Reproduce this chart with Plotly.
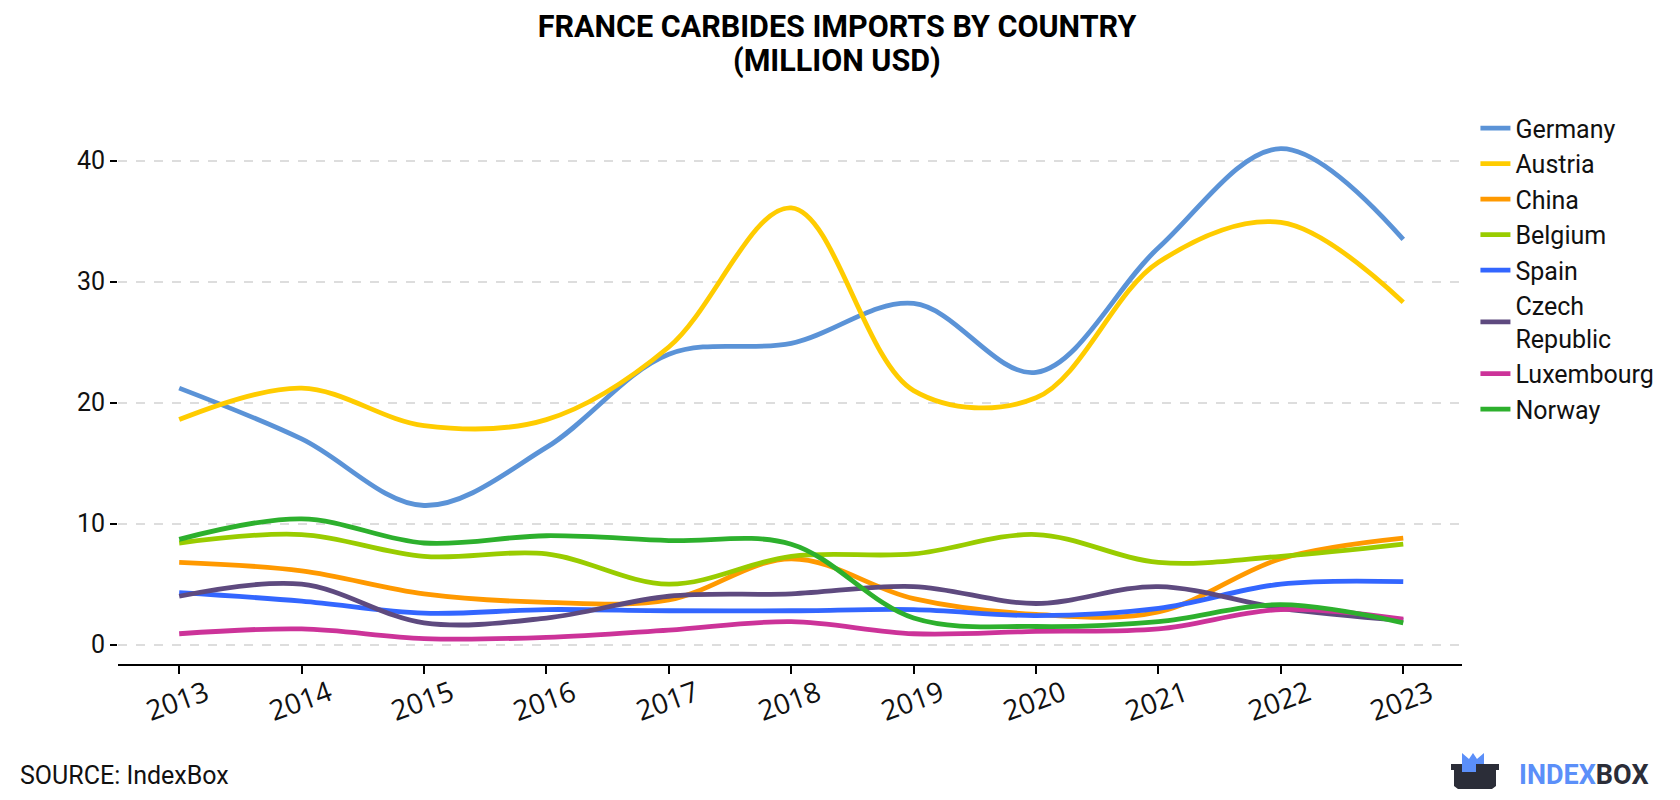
import plotly.graph_objects as go

years = [2013, 2014, 2015, 2016, 2017, 2018, 2019, 2020, 2021, 2022, 2023]
year_labels = [str(y) for y in years]

germany = [21.2, 17.0, 11.5, 16.3, 24.0, 24.9, 28.2, 22.5, 32.8, 41.0, 33.5]
austria = [18.6, 21.2, 18.1, 18.6, 24.6, 36.1, 21.0, 20.4, 31.6, 34.9, 28.3]
china = [6.8, 6.1, 4.2, 3.5, 3.7, 7.1, 3.8, 2.5, 2.7, 7.1, 8.8]
belgium = [8.4, 9.1, 7.3, 7.5, 5.0, 7.3, 7.5, 9.1, 6.8, 7.3, 8.3]
spain = [4.3, 3.6, 2.6, 2.9, 2.8, 2.8, 2.9, 2.4, 3.0, 5.0, 5.2]
czech = [4.0, 5.0, 1.8, 2.2, 4.0, 4.2, 4.8, 3.4, 4.8, 3.0, 2.0]
luxembourg = [0.9, 1.3, 0.5, 0.6, 1.2, 1.9, 0.9, 1.1, 1.3, 2.9, 2.1]
norway = [8.7, 10.4, 8.4, 9.0, 8.6, 8.3, 2.2, 1.5, 1.9, 3.3, 1.8]

series = [
    ("Germany", germany, "#5B93D7"),
    ("Austria", austria, "#FFCC00"),
    ("China", china, "#FF9900"),
    ("Belgium", belgium, "#99CC00"),
    ("Spain", spain, "#3366FF"),
    ("Czech<br>Republic", czech, "#5E4A7F"),
    ("Luxembourg", luxembourg, "#CC3399"),
    ("Norway", norway, "#2DB02D"),
]

W, H = 1680, 800
OFF = 8  # page body margin
L, R, T, B = 110, 226, 97, 144
PW, PH = W - L - R, H - T - B

fig = go.Figure()
for name, vals, color in series:
    fig.add_trace(go.Scatter(
        x=years, y=vals, name=name, mode="lines",
        line=dict(color=color, width=4.8, shape="spline", smoothing=1),
        legendgroup=name,
    ))

def px(x, y):
    # screenshot pixel -> paper coords
    x -= OFF
    y -= OFF
    return (x - L) / PW, (H - B - y) / PH

def path(points):
    s = ""
    for i, (x, y) in enumerate(points):
        a, b = px(x, y)
        s += ("M" if i == 0 else "L") + f"{a:.5f},{b:.5f} "
    return s + "Z"

shapes = [
    dict(type="path", xref="paper", yref="paper", line=dict(width=0), fillcolor="#5B8FF9",
         path=path([(1462, 769), (1462, 753), (1469, 759), (1473, 753), (1477, 759), (1484, 753), (1484, 769)])),
    dict(type="path", xref="paper", yref="paper", line=dict(width=0), fillcolor="#2B2D38",
         path=path([(1451, 764), (1499, 764), (1499, 770), (1496, 770), (1496, 786), (1492, 789),
                    (1458, 789), (1454, 786), (1454, 770), (1451, 770)])),
    dict(type="path", xref="paper", yref="paper", line=dict(width=0), fillcolor="#5B8FF9",
         path=path([(1462, 764), (1476, 764), (1476, 772), (1462, 772)])),
]

annotations = [
    dict(text="<b>(MILLION USD)</b>", xref="paper", yref="paper",
         x=px(837, 0)[0], y=px(0, 61)[1], xanchor="center", yanchor="middle",
         showarrow=False, font=dict(size=30.5, color="#000000", family="Roboto")),
    dict(text="SOURCE: IndexBox", xref="paper", yref="paper",
         x=px(18, 0)[0], y=px(0, 775)[1], xanchor="left", yanchor="middle",
         showarrow=False, font=dict(size=25, color="#111111")),
    dict(text="<b><span style='color:#5B8FF9'>INDEX</span><span style='color:#2B2D38'>BOX</span></b>",
         xref="paper", yref="paper",
         x=px(1517, 0)[0], y=px(0, 775)[1], xanchor="left", yanchor="middle",
         showarrow=False, font=dict(size=27, family="Roboto")),
]
for yv, lab in zip(years, year_labels):
    annotations.append(dict(
        text=lab, xref="x", yref="paper", x=yv, y=px(0, 700)[1],
        xanchor="center", yanchor="middle", xshift=-2, textangle=-20,
        showarrow=False, font=dict(size=28, family="Open Sans", color="#111111"),
    ))

fig.update_layout(
    width=W, height=H,
    margin=dict(l=L, r=R, t=T, b=B, autoexpand=False),
    paper_bgcolor="white", plot_bgcolor="white",
    font=dict(family="Roboto", color="#111111", size=25),
    title=dict(
        text="<b>FRANCE CARBIDES IMPORTS BY COUNTRY</b>",
        x=(837 - OFF) / W, xref="container", xanchor="center",
        yref="container", y=1 - (26 - OFF) / H, yanchor="middle",
        font=dict(family="Roboto", size=30.5, color="#000000"),
    ),
    xaxis=dict(
        range=[2012.5, 2023.48], tickmode="array", tickvals=years,
        showticklabels=False,
        showline=True, linecolor="#000000", linewidth=2,
        ticks="outside", ticklen=8, tickwidth=2, tickcolor="#000000",
        showgrid=False, zeroline=False,
    ),
    yaxis=dict(
        range=[-1.6, 44.6], tickvals=[0, 10, 20, 30, 40],
        showline=False, ticks="outside", ticklen=7, tickwidth=2, tickcolor="#000000",
        showgrid=True, gridcolor="#DDDDDD", griddash="dash", gridwidth=2,
        zeroline=False,
        tickfont=dict(size=25, color="#111111"),
    ),
    legend=dict(
        x=1.010, xanchor="left", y=0.9993, yanchor="top",
        font=dict(size=25, color="#111111"),
        tracegroupgap=0, bgcolor="rgba(0,0,0,0)",
    ),
    showlegend=True,
    shapes=shapes,
    annotations=annotations,
)

fig.write_html("out.html")
